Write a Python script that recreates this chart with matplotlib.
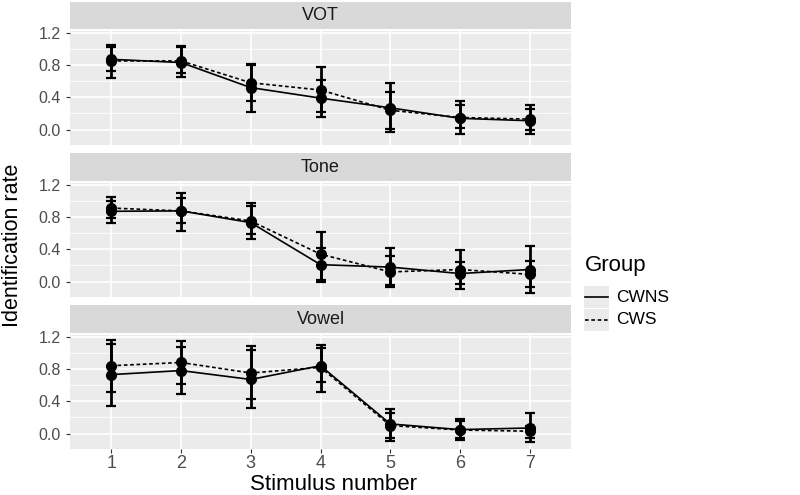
import numpy as np
import matplotlib
matplotlib.use("Agg")
import matplotlib.pyplot as plt
from matplotlib.lines import Line2D

plt.rcParams['font.family'] = ['Liberation Sans', 'DejaVu Sans']

stimulus = [1, 2, 3, 4, 5, 6, 7]
panels = ['VOT', 'Tone', 'Vowel']
groups = ['CWNS', 'CWS']

# mean identification rate
vot_cwns = [0.87, 0.83, 0.52, 0.39, 0.27, 0.14, 0.11]
vot_cws = [0.85, 0.85, 0.58, 0.49, 0.24, 0.15, 0.13]
tone_cwns = [0.87, 0.875, 0.73, 0.21, 0.18, 0.10, 0.15]
tone_cws = [0.91, 0.875, 0.75, 0.34, 0.12, 0.15, 0.09]
vowel_cwns = [0.73, 0.78, 0.67, 0.84, 0.12, 0.05, 0.07]
vowel_cws = [0.84, 0.88, 0.75, 0.82, 0.10, 0.045, 0.03]

# error bar ends (low, high)
vot_cwns_lo = [0.64, 0.65, 0.22, 0.16, -0.03, -0.06, -0.05]
vot_cwns_hi = [1.05, 1.04, 0.81, 0.62, 0.58, 0.36, 0.30]
vot_cws_lo = [0.73, 0.70, 0.36, 0.22, 0.01, 0.02, 0.00]
vot_cws_hi = [1.02, 1.02, 0.80, 0.77, 0.46, 0.30, 0.25]

tone_cwns_lo = [0.73, 0.63, 0.53, 0.00, -0.07, -0.09, -0.14]
tone_cwns_hi = [1.05, 1.10, 0.97, 0.42, 0.41, 0.39, 0.44]
tone_cws_lo = [0.79, 0.73, 0.585, 0.02, -0.04, -0.03, -0.07]
tone_cws_hi = [1.00, 1.03, 0.93, 0.62, 0.32, 0.24, 0.25]

vowel_cwns_lo = [0.34, 0.49, 0.32, 0.51, -0.09, -0.08, -0.10]
vowel_cwns_hi = [1.16, 1.14, 1.09, 1.10, 0.30, 0.18, 0.26]
vowel_cws_lo = [0.52, 0.62, 0.43, 0.64, -0.05, -0.05, -0.05]
vowel_cws_hi = [1.11, 1.07, 1.03, 1.06, 0.26, 0.16, 0.10]

data = {
    'VOT': [(vot_cwns, vot_cwns_lo, vot_cwns_hi), (vot_cws, vot_cws_lo, vot_cws_hi)],
    'Tone': [(tone_cwns, tone_cwns_lo, tone_cwns_hi), (tone_cws, tone_cws_lo, tone_cws_hi)],
    'Vowel': [(vowel_cwns, vowel_cwns_lo, vowel_cwns_hi), (vowel_cws, vowel_cws_lo, vowel_cws_hi)],
}
styles = ['-', (0, (2.2, 1.6))]

W, H = 800, 495
fig = plt.figure(figsize=(8, 4.95), dpi=100)

left, right = 70, 571
layout = [(2, 31, 145), (153, 183, 297), (305, 335, 449)]  # strip top, panel top, panel bottom

def fx(px):
    return px / W

def fy(py):
    return 1 - py / H

axes = []
for name, (s_top, p_top, p_bot) in zip(panels, layout):
    sax = fig.add_axes([fx(left), fy(p_top - 2), fx(right - left), (p_top - 2 - s_top) / H])
    sax.set_facecolor('#d9d9d9')
    sax.set_xticks([])
    sax.set_yticks([])
    for sp in sax.spines.values():
        sp.set_visible(False)
    sax.text(0.5, 0.5, name, ha='center', va='center', fontsize=13, color='#1a1a1a',
             transform=sax.transAxes)

    ax = fig.add_axes([fx(left), fy(p_bot), fx(right - left), (p_bot - p_top) / H])
    ax.set_facecolor('#ebebeb')
    for sp in ax.spines.values():
        sp.set_visible(False)
    ax.set_xlim(0.41, 7.59)
    ax.set_ylim(-0.19, 1.22)
    ax.set_yticks([0.0, 0.4, 0.8, 1.2])
    ax.set_yticks([0.2, 0.6, 1.0], minor=True)
    ax.set_xticks(stimulus)
    ax.grid(True, which='major', color='white', linewidth=1.2)
    ax.grid(True, which='minor', axis='y', color='white', linewidth=0.6)
    ax.set_axisbelow(True)
    ax.tick_params(axis='both', which='major', color='#333333', length=3, width=0.8,
                   labelsize=11.5, labelcolor='#4d4d4d')
    ax.tick_params(axis='y', which='minor', length=0)
    ax.set_yticklabels(['0.0', '0.4', '0.8', '1.2'])
    for (mean, lo, hi), ls in zip(data[name], styles):
        mean = np.array(mean)
        err = [mean - np.array(lo), np.array(hi) - mean]
        ax.errorbar(stimulus, mean, yerr=err, fmt='none', ecolor='black',
                    elinewidth=2.0, capsize=3.5, capthick=1.6, zorder=3)
        ax.plot(stimulus, mean, color='black', linestyle=ls, linewidth=1.2, zorder=4)
        ax.plot(stimulus, mean, 'o', color='black', markersize=7, zorder=5)
    axes.append(ax)

for ax in axes[:-1]:
    ax.tick_params(axis='x', labelbottom=False, length=0)
axes[-1].tick_params(axis='x', labelsize=13, pad=1.5)

fig.text(fx(334), fy(485), 'Stimulus number', ha='center', va='center', fontsize=16, color='black')
fig.text(fx(13), fy(245), 'Identification rate', ha='center', va='center', fontsize=15.5,
         rotation=90, color='black')

# legend
fig.text(fx(585), fy(266), 'Group', ha='left', va='center', fontsize=16, color='black')
for i, (g, ls) in enumerate(zip(groups, styles)):
    yc = 297 + i * 23
    kax = fig.add_axes([fx(584), fy(yc + 11), fx(25), 22 / H])
    kax.set_facecolor('#ebebeb')
    kax.set_xlim(0, 1)
    kax.set_ylim(0, 1)
    kax.set_xticks([])
    kax.set_yticks([])
    for sp in kax.spines.values():
        sp.set_visible(False)
    kax.add_line(Line2D([0.05, 0.95], [0.5, 0.5], color='black', linestyle=ls, linewidth=1.2))
    fig.text(fx(616), fy(yc), g, ha='left', va='center', fontsize=12.5, color='black')

fig.savefig('out.png', dpi=100)
